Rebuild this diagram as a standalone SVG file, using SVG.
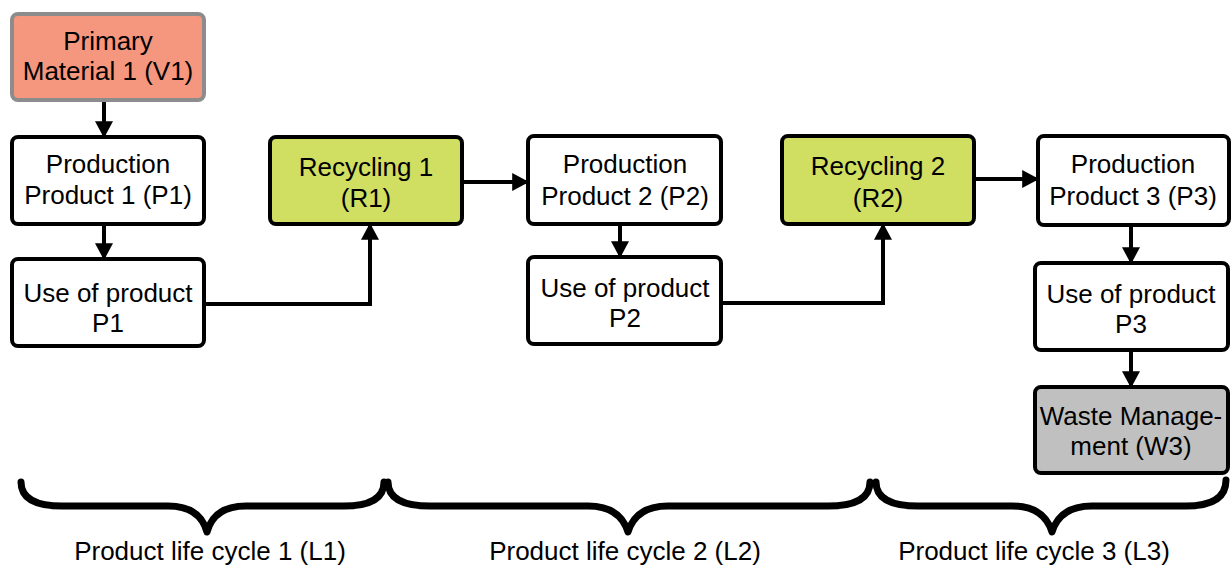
<svg xmlns="http://www.w3.org/2000/svg" width="1231" height="565" viewBox="0 0 1231 565">
<style>
  .box{stroke:#000;stroke-width:4;}
  .w{fill:#fff;}
  .g{fill:#d0df62;}
  .v{fill:#f4977e;stroke:#8c8c8c;}
  .gr{fill:#c0c0c0;}
  text{font-family:"Liberation Sans",Arial,sans-serif;font-size:26px;fill:#000;text-anchor:middle;}
  .c{fill:none;stroke:#000;stroke-width:4;}
  .brace{fill:none;stroke:#000;stroke-width:7;stroke-linecap:round;stroke-linejoin:round;}
</style>
<defs>
  <marker id="ah" markerUnits="userSpaceOnUse" markerWidth="18" markerHeight="18" viewBox="0 0 16 17" refX="14" refY="8.5" orient="auto">
    <path d="M0,0 L16,8.5 L0,17 Z" fill="#000"/>
  </marker>
</defs>
<g id="connectors">
  <path class="c" d="M104,101 V136" marker-end="url(#ah)"/>
  <path class="c" d="M104,224 V258" marker-end="url(#ah)"/>
  <path class="c" d="M204,304 H370 V225" marker-end="url(#ah)"/>
  <path class="c" d="M462,182 H527" marker-end="url(#ah)"/>
  <path class="c" d="M620,224 V256" marker-end="url(#ah)"/>
  <path class="c" d="M721,303 H883 V225" marker-end="url(#ah)"/>
  <path class="c" d="M974,179 H1037" marker-end="url(#ah)"/>
  <path class="c" d="M1131,226 V262" marker-end="url(#ah)"/>
  <path class="c" d="M1131,350 V386" marker-end="url(#ah)"/>
</g>
<g id="V1">
  <rect class="box v" x="12" y="14" width="192" height="86" rx="6"/>
  <text x="108" y="50">Primary</text>
  <text x="108" y="80">Material 1 (V1)</text>
</g>
<g id="P1">
  <rect class="box w" x="12" y="137" width="192" height="87" rx="6"/>
  <text x="108" y="173">Production</text>
  <text x="108" y="204">Product 1 (P1)</text>
</g>
<g id="U1">
  <rect class="box w" x="12" y="259" width="192" height="87" rx="6"/>
  <text x="108" y="302">Use of product</text>
  <text x="108" y="332">P1</text>
</g>
<g id="R1">
  <rect class="box g" x="270" y="137" width="192" height="87" rx="6"/>
  <text x="366" y="176">Recycling 1</text>
  <text x="366" y="207">(R1)</text>
</g>
<g id="P2">
  <rect class="box w" x="528" y="136" width="193" height="88" rx="6"/>
  <text x="625" y="173">Production</text>
  <text x="625" y="205">Product 2 (P2)</text>
</g>
<g id="U2">
  <rect class="box w" x="528" y="257" width="193" height="87" rx="6"/>
  <text x="625" y="297">Use of product</text>
  <text x="625" y="327">P2</text>
</g>
<g id="R2">
  <rect class="box g" x="782" y="136" width="192" height="88" rx="6"/>
  <text x="878" y="175">Recycling 2</text>
  <text x="878" y="207">(R2)</text>
</g>
<g id="P3">
  <rect class="box w" x="1038" y="136" width="191" height="89" rx="6"/>
  <text x="1133" y="173">Production</text>
  <text x="1133" y="205">Product 3 (P3)</text>
</g>
<g id="U3">
  <rect class="box w" x="1035" y="263" width="193" height="87" rx="6"/>
  <text x="1131" y="303">Use of product</text>
  <text x="1131" y="333">P3</text>
</g>
<g id="W3">
  <rect class="box gr" x="1035" y="387" width="193" height="86" rx="6"/>
  <text x="1131" y="425">Waste Manage-</text>
  <text x="1131" y="455">ment (W3)</text>
</g>
<g id="L1">
  <path class="brace" d="M21,482 Q21,506 62,506 L168,506 Q200,506 207,532 Q214,506 246,506 L344,506 Q384,506 384,482"/>
  <text x="210" y="560">Product life cycle 1 (L1)</text>
</g>
<g id="L2">
  <path class="brace" d="M388,482 Q388,506 430,506 L588,506 Q620,506 628,532 Q636,506 668,506 L828,506 Q870,506 870,482"/>
  <text x="625" y="560">Product life cycle 2 (L2)</text>
</g>
<g id="L3">
  <path class="brace" d="M876,482 Q876,506 918,506 L1012,506 Q1044,506 1052,532 Q1060,506 1092,506 L1186,506 Q1226,506 1226,480"/>
  <text x="1034" y="560">Product life cycle 3 (L3)</text>
</g>
</svg>
